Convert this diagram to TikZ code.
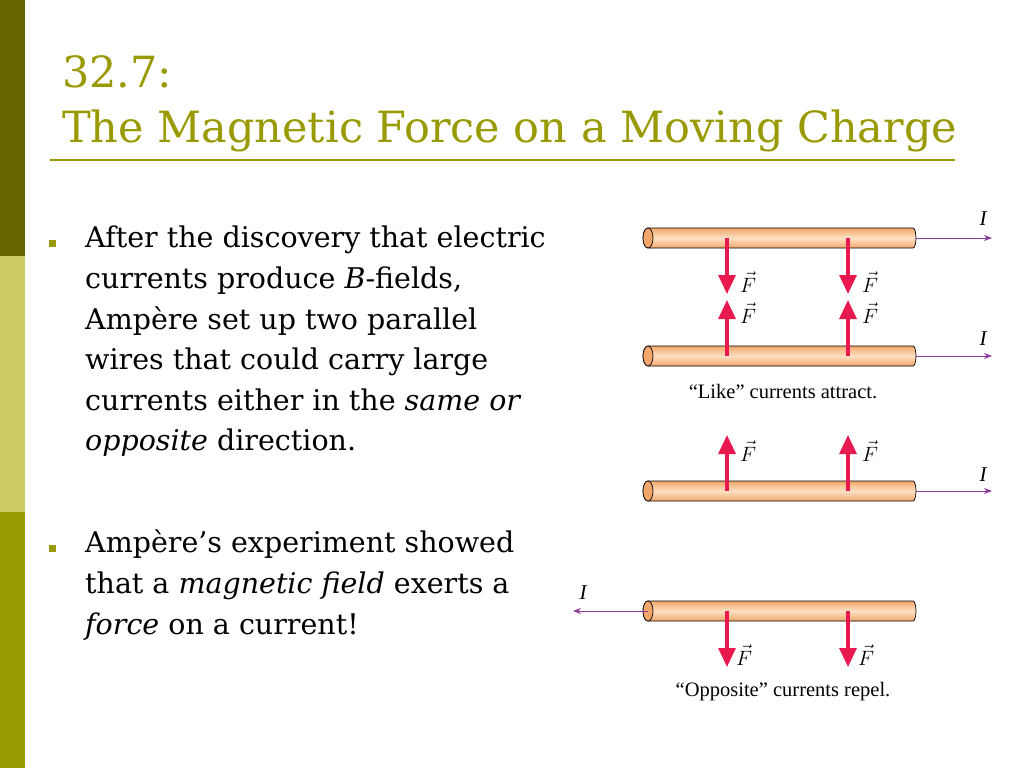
\documentclass[tikz,border=0pt]{standalone}
\usepackage{fontspec}
\setmainfont{DejaVu Serif}
\newfontfamily\capfont{Liberation Serif}
\usetikzlibrary{arrows.meta}
\definecolor{olive}{HTML}{999900}
\definecolor{darkol}{HTML}{666600}
\definecolor{lightol}{HTML}{CCCC66}
\definecolor{wireA}{HTML}{F2A66A}
\definecolor{wireB}{HTML}{FDE0C4}
\definecolor{force}{HTML}{E8194F}
\definecolor{cur}{HTML}{8E3A9A}
\tikzset{
  body/.style={font=\fontsize{28.5}{40.6}\selectfont, anchor=north west, align=left, inner sep=0pt},
  bul/.style={fill=olive, minimum size=7pt, inner sep=0pt},
  forcearr/.style={force, line width=3.2pt, -{Triangle[length=19pt,width=17pt]}},
  curarr/.style={cur, line width=0.8pt, -{Stealth[length=8pt,width=6pt]}},
  flab/.style={font=\capfont\fontsize{20}{20}\selectfont, inner sep=0pt},
  ilab/.style={font=\capfont\fontsize{21}{21}\selectfont\itshape, inner sep=0pt},
  captxt/.style={font=\capfont\fontsize{20.5}{20.5}\selectfont, inner sep=0pt}
}
\newcommand{\wire}[2]{%
  \shade[top color=wireA, bottom color=wireA, middle color=wireB, draw=black, line width=0.7pt]
    (648,#1-10) -- (913,#1-10) arc[start angle=-90,end angle=90,x radius=3,y radius=10] -- (648,#1+10) arc[start angle=90,end angle=270,x radius=5,y radius=10] -- cycle;
  \draw[fill=wireA, line width=0.7pt] (648,#1) ellipse[x radius=5,y radius=10];
  \coordinate (#2L) at (648,#1); \coordinate (#2R) at (916,#1);
  \coordinate (#2a) at (727,#1); \coordinate (#2b) at (848,#1);
}
\begin{document}
\begin{tikzpicture}[x=1pt,y=-1pt]
\useasboundingbox (0,0) rectangle (1024,768);
\fill[darkol] (0,0) rectangle (25,256);
\fill[lightol] (0,256) rectangle (25,512);
\fill[olive] (0,512) rectangle (25,768);
\node[anchor=base west, text=olive, font=\fontsize{43}{43}\selectfont, inner sep=0pt] (t1) at (62,87) {32.7:};
\node[anchor=base west, text=olive, font=\fontsize{43}{43}\selectfont, inner sep=0pt] (t2) at (62,142) {The Magnetic Force on a Moving Charge};
\draw[olive, line width=1.2pt] (50,160) -- (955,160);
\node[bul] (b1) at (52,243) {};
\node[bul] (b2) at (52,548) {};
\node[body] (p1) at (85,226) {After the discovery that electric\\currents produce \textit{B}-fields,\\Ampère set up two parallel\\wires that could carry large\\currents either in the \textit{same or}\\\textit{opposite} direction.};
\node[body] (p2) at (85,530) {Ampère’s experiment showed\\that a \textit{magnetic field} exerts a\\\textit{force} on a current!};
\wire{238}{w1}
\wire{356}{w2}
\wire{491}{w3}
\wire{611}{w4}
\coordinate (e1) at (992,238); \coordinate (e2) at (992,356); \coordinate (e3) at (992,491); \coordinate (e4) at (573,611);
\draw[curarr] (w1R) -- (e1);
\draw[curarr] (w2R) -- (e2);
\draw[curarr] (w3R) -- (e3);
\draw[curarr] (w4L) -- (e4);
\node[ilab] (i1) at (983,219) {I};
\node[ilab] (i2) at (983,339) {I};
\node[ilab] (i3) at (983,475) {I};
\node[ilab] (i4) at (583,593) {I};
\coordinate (d1) at (727,294); \coordinate (d2) at (848,294);
\coordinate (u1) at (727,300); \coordinate (u2) at (848,300);
\draw[forcearr] (w1a) -- (d1); \draw[forcearr] (w1b) -- (d2);
\draw[forcearr] (w2a) -- (u1); \draw[forcearr] (w2b) -- (u2);
\coordinate (r1) at (727,435); \coordinate (r2) at (848,435);
\coordinate (s1) at (727,667); \coordinate (s2) at (848,667);
\draw[forcearr] (w3a) -- (r1); \draw[forcearr] (w3b) -- (r2);
\draw[forcearr] (w4a) -- (s1); \draw[forcearr] (w4b) -- (s2);
\foreach \n/\x/\y in {fa/748/282, fb/870/282, fc/748/313, fd/870/313, fe/748/451, ff/870/451, fg/744/655, fh/866/655}
  \node[flab] (\n) at (\x,\y) {$\vec{F}$};
\node[captxt] (c1) at (783,392) {“Like” currents attract.};
\node[captxt] (c2) at (783,692) {“Opposite” currents repel.};
\end{tikzpicture}
\end{document}
